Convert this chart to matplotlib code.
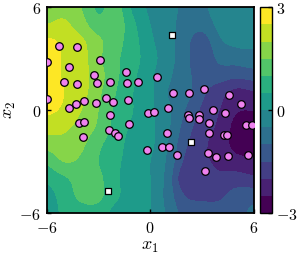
import numpy as np
import matplotlib
matplotlib.use("Agg")
import matplotlib.pyplot as plt

plt.rcParams['mathtext.fontset'] = 'cm'
plt.rcParams['font.family'] = 'serif'
plt.rcParams['font.serif'] = ['DejaVu Serif']

# grid of field values (rows: y = 6 .. -6, cols: x = -6 .. 6)
grid_x = np.arange(-6, 7, 1.0)
grid_y = np.arange(6, -7, -1.0)
field = np.array([
    [1.7, 1.8, 1.5, 0.9, 1.2, 0.4, -0.1, -0.3, -0.6, -0.6, -0.3, -0.3, -0.2],
    [2.0, 2.1, 1.7, 1.2, 1.3, 0.6, 0.0, -0.3, -0.7, -0.8, -0.4, -0.3, -0.3],
    [2.6, 2.4, 2.1, 1.6, 1.2, 0.7, 0.1, -0.3, -0.8, -1.3, -0.6, -0.4, -0.4],
    [2.7, 2.45, 2.2, 1.6, 1.1, 0.7, 0.2, -0.3, -0.8, -1.5, -0.9, -0.8, -0.7],
    [2.7, 2.45, 2.2, 1.7, 1.1, 0.6, 0.1, -0.4, -0.8, -1.3, -1.3, -1.4, -1.3],
    [2.8, 2.5, 2.2, 1.6, 1.0, 0.5, 0.1, -0.5, -0.8, -1.4, -1.8, -2.2, -2.1],
    [2.6, 2.4, 2.0, 1.5, 0.9, 0.5, 0.1, -0.4, -1.0, -1.6, -2.0, -2.45, -2.5],
    [2.2, 2.1, 1.8, 1.4, 0.8, 0.4, 0.1, -0.4, -1.2, -1.8, -2.1, -2.7, -2.8],
    [1.7, 1.8, 1.6, 1.1, 0.7, 0.3, 0.1, -0.5, -1.4, -1.9, -2.2, -2.7, -2.8],
    [1.1, 1.5, 1.4, 1.0, 0.6, 0.3, 0.0, -0.6, -1.6, -1.9, -2.1, -2.3, -2.4],
    [0.6, 0.9, 1.2, 1.1, 0.6, 0.2, 0.0, -0.7, -1.9, -1.8, -1.9, -1.8, -1.9],
    [0.3, 0.7, 1.1, 1.1, 0.6, 0.2, 0.0, -0.7, -1.5, -1.6, -1.6, -1.3, -1.2],
    [0.2, 0.6, 0.8, 0.8, 0.3, 0.2, 0.0, -0.6, -1.2, -1.3, -1.3, -1.2, -0.9],
])

# observed points
pts_x = [-5.28, -4.23, -5.97, -4.70, -2.90, -3.25, -1.40, -4.99, -4.23, -3.08,
         -2.32, -1.34, -0.70, -5.97, -4.70, -4.29, -3.83, -3.13, -2.55, -2.15,
         -1.28, -2.32, -0.12, -4.12, -3.83, -1.22, -2.38, -2.03, -1.86, -3.89,
         -0.18, 0.40, 1.32, 2.25, 3.12, 4.57, 5.26, 0.22, 1.04, 2.19,
         2.25, 2.83, 2.83, 3.64, 4.34, 3.41, 5.55, 5.90, 0.98, 3.41,
         4.28, 4.45, 0.69, 1.09, 1.56, 3.35, 3.81, 4.51, 5.67, 3.18]
pts_y = [3.74, 3.68, 2.81, 2.52, 2.93, 2.05, 2.23, 1.64, 1.52, 1.58,
         1.64, 1.58, 1.64, 0.65, 0.13, 0.36, 0.53, 0.42, 0.71, 0.47,
         0.59, -0.28, -0.17, -0.75, -0.69, -0.81, -1.16, -1.33, -1.51, -1.57,
         -2.33, 1.93, 1.00, 1.00, 1.23, 0.88, 0.36, -0.11, 0.12, -0.28,
         -0.46, -0.28, -0.52, 0.01, -0.17, -0.75, -0.87, -0.87, -1.33, -1.33,
         -1.45, -1.45, -2.15, -2.15, -2.62, -2.50, -2.73, -2.67, -2.62, -3.55]

# query points (squares)
sq_x = [1.27, 2.37, -2.44]
sq_y = [4.38, -1.86, -4.72]

levels = np.arange(-3, 3.01, 0.5)
cbar_ticks = [-3, 0, 3]
axis_ticks = [-6, 0, 6]


def cr_weights(n, m):
    t = np.linspace(0, n - 1, m)
    W = np.zeros((m, n))
    for k, tk in enumerate(t):
        i = min(int(np.floor(tk)), n - 2)
        u = tk - i
        w = [(-u**3 + 2*u**2 - u) / 2, (3*u**3 - 5*u**2 + 2) / 2,
             (-3*u**3 + 4*u**2 + u) / 2, (u**3 - u**2) / 2]
        for j, wj in zip(range(i - 1, i + 3), w):
            W[k, min(max(j, 0), n - 1)] += wj
    return W


Z = field[::-1]           # ascending y
gy = grid_y[::-1]
m = 200
Wx = cr_weights(len(grid_x), m)
Wy = cr_weights(len(gy), m)
Zf = Wy @ Z @ Wx.T
xf = np.linspace(grid_x[0], grid_x[-1], m)
yf = np.linspace(gy[0], gy[-1], m)

fig = plt.figure(figsize=(3.04, 2.59), dpi=100)
ax = fig.add_axes([46.5 / 304, 1 - 213 / 259, 207.2 / 304, 205.7 / 259])
cax = fig.add_axes([260 / 304, 1 - 213 / 259, 12.3 / 304, 205.7 / 259])

cols = plt.cm.viridis(np.linspace(0, 1, len(levels) - 1))
cs = ax.contourf(xf, yf, np.clip(Zf, -2.99, 2.99), levels=levels, colors=cols)
ax.scatter(pts_x, pts_y, s=30, c='violet', edgecolors='black', linewidths=0.9, zorder=3)
ax.scatter(sq_x, sq_y, s=24, marker='s', c='white', edgecolors='black', linewidths=0.9, zorder=3)

ax.set_xlim(-6, 6)
ax.set_ylim(-6, 6)
ax.set_xticks(axis_ticks)
ax.set_yticks(axis_ticks)
ax.set_xticklabels([f"${v}$" for v in axis_ticks], fontsize=11.5)
ax.set_yticklabels([f"${v}$" for v in axis_ticks], fontsize=11.5)
ax.tick_params(direction='in', length=3, width=1)
ax.tick_params(axis='x', pad=5)
ax.tick_params(axis='y', pad=4)
for s in ax.spines.values():
    s.set_linewidth(1.3)
ax.set_xlabel(r"$x_1$", fontsize=13, labelpad=0)
ax.set_ylabel(r"$x_2$", fontsize=13, labelpad=1)

cb = fig.colorbar(cs, cax=cax, ticks=cbar_ticks)
cb.ax.set_yticklabels([f"${v}$" for v in cbar_ticks], fontsize=11.5)
cb.ax.tick_params(direction='in', length=3, width=1, pad=3)
cb.outline.set_linewidth(1.0)

fig.savefig("out.png", dpi=100)
